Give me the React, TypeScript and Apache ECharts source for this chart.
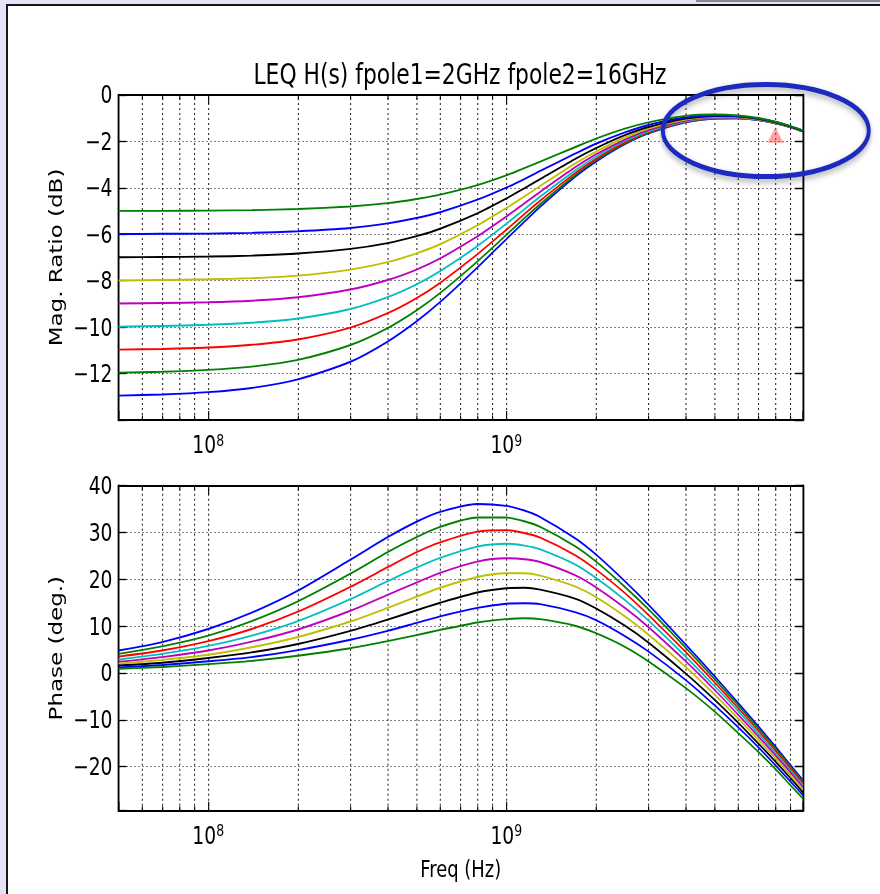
import React, { useEffect, useRef } from 'react';
import * as echarts from 'echarts';

// ---------------- data ----------------
const freqHz = [5e7, 7e7, 1e8, 1.4e8, 2e8, 3e8, 4e8, 5e8, 6e8, 8e8, 1e9, 1.15e9, 1.3e9, 1.7e9, 2e9, 2.5e9, 3e9, 4e9, 5e9, 6e9, 7e9, 8e9, 9e9, 9.9e9];

// magnitude (dB), one array per DC level
const magDbM13 = [-12.95, -12.90, -12.80, -12.62, -12.25, -11.49, -10.62, -9.75, -8.92, -7.43, -6.21, -5.46, -4.81, -3.53, -2.87, -2.12, -1.65, -1.18, -1.01, -1.00, -1.08, -1.22, -1.39, -1.57];
const magDbM12 = [-11.96, -11.92, -11.84, -11.70, -11.41, -10.77, -10.04, -9.28, -8.53, -7.17, -6.03, -5.31, -4.70, -3.46, -2.81, -2.08, -1.63, -1.16, -1.01, -1.00, -1.08, -1.22, -1.39, -1.57];
const magDbM11 = [-10.97, -10.94, -10.88, -10.76, -10.53, -10.02, -9.40, -8.75, -8.09, -6.86, -5.81, -5.13, -4.55, -3.37, -2.75, -2.04, -1.60, -1.15, -0.99, -0.99, -1.07, -1.21, -1.39, -1.57];
const magDbM10 = [-9.98, -9.95, -9.90, -9.81, -9.63, -9.22, -8.71, -8.16, -7.59, -6.51, -5.55, -4.92, -4.38, -3.26, -2.66, -1.98, -1.56, -1.13, -0.98, -0.98, -1.07, -1.21, -1.38, -1.56];
const magDbM9 = [-8.98, -8.96, -8.93, -8.86, -8.71, -8.38, -7.97, -7.52, -7.04, -6.09, -5.24, -4.67, -4.17, -3.12, -2.56, -1.92, -1.51, -1.10, -0.96, -0.97, -1.06, -1.20, -1.38, -1.56];
const magDbM8 = [-7.99, -7.97, -7.94, -7.89, -7.78, -7.52, -7.20, -6.82, -6.43, -5.62, -4.87, -4.37, -3.92, -2.96, -2.44, -1.83, -1.45, -1.06, -0.94, -0.95, -1.05, -1.19, -1.37, -1.55];
const magDbM7 = [-6.99, -6.98, -6.96, -6.92, -6.83, -6.63, -6.38, -6.08, -5.76, -5.10, -4.46, -4.02, -3.62, -2.76, -2.29, -1.73, -1.38, -1.02, -0.91, -0.93, -1.03, -1.18, -1.36, -1.55];
const magDbM6 = [-5.99, -5.98, -5.97, -5.94, -5.87, -5.73, -5.53, -5.30, -5.05, -4.51, -3.99, -3.62, -3.27, -2.53, -2.10, -1.61, -1.29, -0.97, -0.88, -0.91, -1.01, -1.16, -1.35, -1.54];
const magDbM5 = [-4.99, -4.99, -4.98, -4.96, -4.91, -4.80, -4.66, -4.48, -4.29, -3.88, -3.46, -3.15, -2.87, -2.25, -1.88, -1.45, -1.18, -0.90, -0.84, -0.88, -0.99, -1.15, -1.34, -1.53];

// phase (deg.), one array per DC level
const phaseM13 = [4.8, 6.6, 9.4, 12.9, 17.6, 24.2, 29.0, 32.3, 34.4, 36.1, 35.7, 34.7, 33.3, 28.8, 25.3, 19.6, 14.6, 6.1, -0.7, -6.4, -11.3, -15.7, -19.7, -22.9];
const phaseM12 = [4.1, 5.7, 8.0, 11.1, 15.3, 21.2, 25.8, 29.0, 31.2, 33.2, 33.2, 32.4, 31.2, 27.1, 23.8, 18.4, 13.6, 5.4, -1.3, -6.9, -11.8, -16.1, -20.0, -23.2];
const phaseM11 = [3.5, 4.8, 6.8, 9.4, 13.1, 18.4, 22.6, 25.8, 27.9, 30.2, 30.5, 29.9, 28.9, 25.2, 22.1, 17.1, 12.4, 4.5, -2.0, -7.5, -12.3, -16.6, -20.4, -23.6];
const phaseM10 = [2.9, 4.1, 5.8, 8.0, 11.1, 15.8, 19.6, 22.5, 24.6, 27.0, 27.6, 27.2, 26.4, 23.2, 20.3, 15.6, 11.2, 3.5, -2.8, -8.1, -12.9, -17.1, -20.9, -24.0];
const phaseM9 = [2.4, 3.4, 4.8, 6.7, 9.3, 13.3, 16.7, 19.3, 21.4, 23.8, 24.5, 24.3, 23.7, 20.9, 18.3, 13.9, 9.8, 2.5, -3.6, -8.9, -13.5, -17.6, -21.3, -24.4];
const phaseM8 = [2.0, 2.8, 3.9, 5.5, 7.7, 11.0, 13.9, 16.3, 18.2, 20.5, 21.3, 21.3, 20.8, 18.5, 16.2, 12.1, 8.2, 1.3, -4.6, -9.7, -14.2, -18.2, -21.9, -24.9];
const phaseM7 = [1.6, 2.2, 3.2, 4.4, 6.2, 9.0, 11.4, 13.4, 15.0, 17.2, 18.1, 18.2, 17.8, 15.9, 13.8, 10.1, 6.5, -0.1, -5.7, -10.6, -15.0, -18.9, -22.5, -25.5];
const phaseM6 = [1.2, 1.7, 2.5, 3.4, 4.9, 7.1, 9.0, 10.7, 12.1, 13.9, 14.8, 14.9, 14.7, 13.0, 11.3, 7.9, 4.6, -1.5, -6.9, -11.6, -15.8, -19.7, -23.2, -26.1];
const phaseM5 = [0.9, 1.3, 1.9, 2.6, 3.7, 5.3, 6.8, 8.1, 9.2, 10.8, 11.5, 11.7, 11.5, 10.1, 8.5, 5.6, 2.5, -3.2, -8.2, -12.8, -16.8, -20.5, -24.0, -26.8];

const curveNames = ['DC -13 dB', 'DC -12 dB', 'DC -11 dB', 'DC -10 dB', 'DC -9 dB', 'DC -8 dB', 'DC -7 dB', 'DC -6 dB', 'DC -5 dB'];
const curveColors = ['#0000ff', '#008000', '#ff0000', '#00bfbf', '#bf00bf', '#bfbf00', '#000000', '#0000ff', '#008000'];
const magSeries = [magDbM13, magDbM12, magDbM11, magDbM10, magDbM9, magDbM8, magDbM7, magDbM6, magDbM5];
const phaseSeries = [phaseM13, phaseM12, phaseM11, phaseM10, phaseM9, phaseM8, phaseM7, phaseM6, phaseM5];

const magTickLabels = [0, -2, -4, -6, -8, -10, -12];
const phaseTickLabels = [40, 30, 20, 10, 0, -10, -20];
const xMajorExponents = [8, 9];
const gridFreqs = [6e7, 7e7, 8e7, 9e7, 1e8, 2e8, 3e8, 4e8, 5e8, 6e8, 7e8, 8e8, 9e8, 1e9, 2e9, 3e9, 4e9, 5e9, 6e9, 7e9, 8e9, 9e9];
const markerPoints = [[8e9, -1.72]];

const titleText = 'LEQ H(s) fpole1=2GHz fpole2=16GHz';

// ---------------- layout ----------------
const S = 0.78; // horizontal squash of the reference picture
const W = 880 / S;
const ux = (x: number) => x / S;
const FONT = 'DejaVu Sans';
const X_MIN = 5e7;
const X_MAX = 9.9e9;

const fmtNum = (v: number) => (v < 0 ? '\u2212' + Math.abs(v) : String(v));

function xLabelFmt(v: number) {
  const e = Math.log10(v);
  const r = Math.round(e);
  if (Math.abs(e - r) > 1e-6 || xMajorExponents.indexOf(r) < 0) return '';
  return `{b|10}{s|${r}}`;
}

const richX = {
  b: { fontSize: 24, fontFamily: FONT, color: '#000', verticalAlign: 'bottom' },
  s: { fontSize: 16, fontFamily: FONT, color: '#000', verticalAlign: 'bottom', padding: [0, 0, 9, 0] },
};

const frameV = { color: '#000', width: 2.4 };
const frameH = { color: '#000', width: 1.8 };

function xAxesFor(gi: number, name?: string) {
  const lmin = Math.log10(X_MIN);
  const lmax = Math.log10(X_MAX);
  const minorLogs = gridFreqs
    .map((f) => Math.log10(f))
    .filter((l) => Math.abs(l - Math.round(l)) > 1e-6);
  const tickStyle = { color: '#000', width: 1.4 };
  const base: any = {
    type: 'log', gridIndex: gi, logBase: 10, min: X_MIN, max: X_MAX, position: 'bottom',
    axisLine: { show: true, onZero: false, lineStyle: frameH },
    axisTick: { show: true, inside: true, length: 9, lineStyle: tickStyle },
    axisLabel: { formatter: xLabelFmt, margin: 12, rich: richX },
    splitLine: { show: false },
    minorTick: { show: false },
  };
  if (name) {
    base.name = name;
    base.nameLocation = 'middle';
    base.nameGap = 47;
    base.nameTextStyle = { fontSize: 23, fontFamily: FONT, color: '#000' };
  }
  return [
    base,
    {
      type: 'value', gridIndex: gi, min: lmin, max: lmax, position: 'top',
      axisLine: { show: true, onZero: false, lineStyle: frameH },
      axisTick: { show: true, inside: true, length: 9, customValues: xMajorExponents, lineStyle: tickStyle },
      axisLabel: { show: false }, splitLine: { show: false },
    },
    {
      type: 'value', gridIndex: gi, min: lmin, max: lmax, position: 'bottom',
      axisLine: { show: false, onZero: false },
      axisTick: { show: true, inside: true, length: 4.5, customValues: minorLogs, lineStyle: tickStyle },
      axisLabel: { show: false }, splitLine: { show: false },
    },
    {
      type: 'value', gridIndex: gi, min: lmin, max: lmax, position: 'top',
      axisLine: { show: false, onZero: false },
      axisTick: { show: true, inside: true, length: 4.5, customValues: minorLogs, lineStyle: tickStyle },
      axisLabel: { show: false }, splitLine: { show: false },
    },
  ];
}

function yAxesFor(gi: number, min: number, max: number, interval: number | undefined, labels: number[], name: string) {
  const common: any = { type: 'value', gridIndex: gi, min, max };
  if (interval !== undefined) common.interval = interval;
  return [
    {
      ...common, position: 'left',
      axisLine: { show: true, onZero: false, lineStyle: frameV },
      axisTick: { show: true, inside: true, length: ux(8), lineStyle: { color: '#000', width: 1.3 } },
      axisLabel: {
        margin: ux(6), fontSize: 24, fontFamily: FONT, color: '#000',
        formatter: (v: number) => (labels.some((t) => Math.abs(t - v) < 1e-6) ? fmtNum(Math.round(v)) : ''),
      },
      splitLine: { show: true, lineStyle: { color: '#000', width: 1, type: [ux(1.1), ux(2.9)] } },
      name, nameLocation: 'middle', nameGap: 64,
      nameTextStyle: { fontSize: 23, fontFamily: FONT, color: '#000' },
    },
    {
      ...common, position: 'right',
      axisLine: { show: true, onZero: false, lineStyle: frameV },
      axisTick: { show: true, inside: true, length: ux(8), lineStyle: { color: '#000', width: 1.3 } },
      axisLabel: { show: false }, splitLine: { show: false },
    },
  ];
}

function buildOption(): any {
  const series: any[] = [];
  const gridLineMark = (xi: number, yi: number) => ({
    type: 'line', xAxisIndex: xi, yAxisIndex: yi, data: [], silent: true, z: 1,
    markLine: {
      silent: true, symbol: 'none', z: 1, animation: false,
      label: { show: false }, emphasis: { disabled: true },
      lineStyle: { color: '#000', width: 1.3, type: [2, 3], opacity: 0.9 },
      data: gridFreqs.map((f) => ({ xAxis: f })),
    },
  });
  series.push(gridLineMark(0, 0));
  series.push(gridLineMark(4, 2));

  magSeries.forEach((arr, i) => {
    series.push({
      type: 'line', name: curveNames[i], xAxisIndex: 0, yAxisIndex: 0,
      data: freqHz.map((f, k) => [f, arr[k]]),
      smooth: 0.25, showSymbol: false, symbol: 'none',
      lineStyle: { color: curveColors[i], width: 1.9 }, itemStyle: { color: curveColors[i] },
      z: 3 + i,
    });
  });
  phaseSeries.forEach((arr, i) => {
    series.push({
      type: 'line', name: curveNames[i], xAxisIndex: 4, yAxisIndex: 2,
      data: freqHz.map((f, k) => [f, arr[k]]),
      smooth: 0.25, showSymbol: false, symbol: 'none',
      lineStyle: { color: curveColors[i], width: 1.9 }, itemStyle: { color: curveColors[i] },
      z: 3 + i,
    });
  });
  series.push({
    type: 'scatter', name: 'marker', xAxisIndex: 0, yAxisIndex: 0,
    data: markerPoints, symbol: 'triangle', symbolSize: [ux(15.7), 15.4],
    itemStyle: { color: 'rgba(255,60,60,0.62)' }, z: 20,
  });

  return {
    animation: false,
    backgroundColor: 'transparent',
    textStyle: { fontFamily: FONT, color: '#000' },
    title: {
      text: titleText, left: ux(460), top: 61, textAlign: 'center', padding: 0,
      textStyle: { fontSize: 28, fontWeight: 'normal', fontFamily: FONT, color: '#000' },
    },
    grid: [
      { left: ux(118.5), top: 95, width: ux(684.5), height: 325 },
      { left: ux(118.5), top: 485.7, width: ux(684.5), height: 325 },
    ],
    xAxis: [...xAxesFor(0), ...xAxesFor(1, 'Freq (Hz)')],
    yAxis: [
      ...yAxesFor(0, -14, 0, 2, magTickLabels, 'Mag. Ratio (dB)'),
      ...yAxesFor(1, -29.4, 40, undefined, phaseTickLabels, 'Phase (deg.)'),
    ],
    series,
    graphic: [
      {
        type: 'ellipse', z: 100, silent: true,
        shape: { cx: ux(765.8), cy: 130.5, rx: ux(103), ry: 46 },
        style: {
          fill: 'none', stroke: '#1b2cc0', lineWidth: 5,
          shadowBlur: 6, shadowColor: 'rgba(0,0,0,0.35)', shadowOffsetY: 3,
        },
      },
    ],
  };
}

export default function App() {
  const ref = useRef<HTMLDivElement>(null);
  useEffect(() => {
    if (!ref.current) return;
    const chart = echarts.init(ref.current, undefined, { renderer: 'svg' });
    chart.setOption(buildOption());
    return () => chart.dispose();
  }, []);
  return (
    <div style={{ position: 'fixed', left: 0, top: 0, width: 880, height: 894, background: '#e7e1f7', overflow: 'hidden' }}>
      <div style={{ position: 'absolute', left: 6, top: 4, right: -20, bottom: -20, background: '#fff', borderLeft: '2px solid #161616', borderTop: '2px solid #161616' }} />
      <div style={{ position: 'absolute', left: 696, top: -10, width: 200, height: 10, borderLeft: '1px solid #888', borderBottom: '2px solid #888' }} />
      <div ref={ref} style={{ position: 'absolute', left: 0, top: 0, width: W, height: 894, transform: `scaleX(${S})`, transformOrigin: '0 0' }} />
    </div>
  );
}
